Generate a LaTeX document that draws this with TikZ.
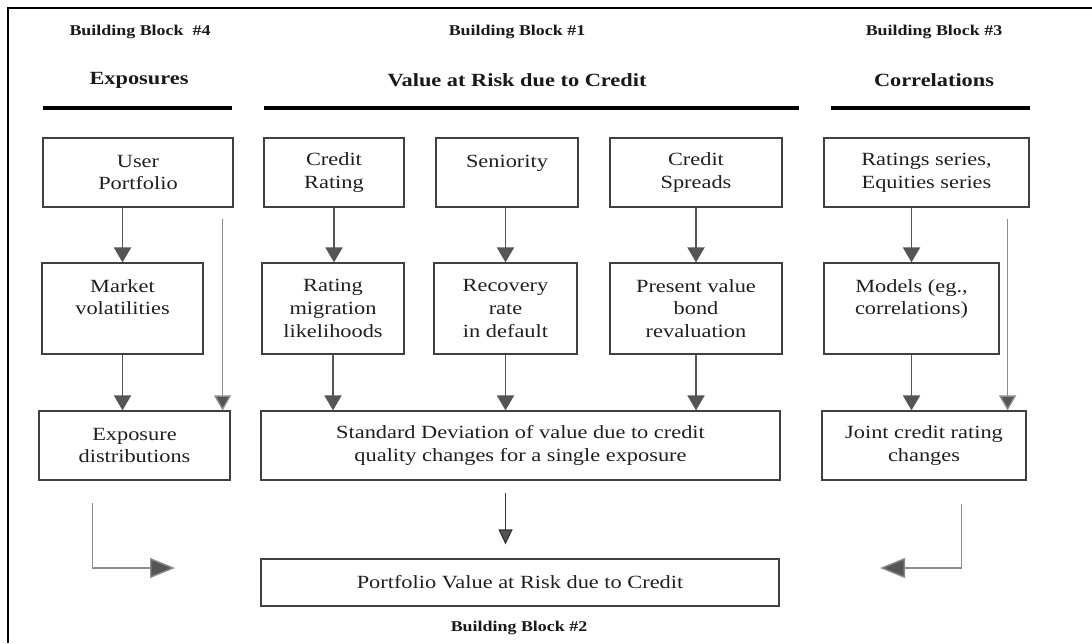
\documentclass[tikz,border=0pt]{standalone}
\usepackage{fontspec}
\setmainfont{Liberation Serif}[FakeStretch=1.2]
\usetikzlibrary{arrows.meta}

\definecolor{linegray}{RGB}{85,85,85}
\definecolor{lightgray}{RGB}{140,140,140}

\begin{document}
\begin{tikzpicture}[x=0.02cm, y=-0.02cm,
  box/.style={draw=black!75, line width=0.7pt, align=center, inner sep=1pt, text=black!88, font=\fontsize{10.6}{13}\selectfont},
  rowa/.style={box, minimum height=1.38cm},
  rowb/.style={box, minimum height=1.82cm},
  rowc/.style={box, minimum height=1.38cm},
  head/.style={font=\fontsize{10.6}{13}\selectfont\bfseries, text=black!90},
  block/.style={font=\fontsize{8.5}{10}\selectfont\bfseries, text=black!90},
  arr/.style={draw=linegray, line width=1.1pt, -{Triangle[width=0.34cm,length=0.3cm]}},
  bypass/.style={draw=lightgray, line width=0.8pt, -{Triangle[width=0.34cm,length=0.3cm,fill=linegray]}},
  down/.style={draw=black!80, line width=0.7pt, -{Triangle[width=0.28cm,length=0.3cm,fill=linegray]}},
  elbow/.style={draw=lightgray, line width=0.8pt, -{Triangle[width=0.4cm,length=0.5cm,fill=linegray]}}
]
\useasboundingbox (0,0) rectangle (1092,643);

% frame
\draw[line width=1.6pt] (8,643) -- (8,8) -- (1092,8);

\node[block] (bb4) at (140,32) {Building Block\ \ \#4};
\node[block] (bb1) at (517,32) {Building Block \#1};
\node[block] (bb3) at (934,32) {Building Block \#3};

\node[head] (hexp) at (139,80) {Exposures};
\node[head] (hvar) at (517,80) {Value at Risk due to Credit};
\node[head] (hcor) at (934,80) {Correlations};

\draw[line width=2.2pt] (43,108) -- (232,108);
\draw[line width=2.2pt] (264,108) -- (799,108);
\draw[line width=2.2pt] (831,108) -- (1030,108);

% inputs
\node[rowa, minimum width=3.8cm] (upf) at (138,172.5) {User\\Portfolio};
\node[rowa, minimum width=2.8cm] (crat) at (334,172.5) {Credit\\Rating};
\node[rowa, minimum width=2.84cm] (sen) at (507,172.5) {Seniority\\~};
\node[rowa, minimum width=3.44cm] (csp) at (696,172.5) {Credit\\Spreads};
\node[rowa, minimum width=4.1cm] (rser) at (926.5,172.5) {Ratings series,\\Equities series};

\node[rowb, minimum width=3.22cm] (mvol) at (122.5,308.5) {Market\\volatilities\\~};
\node[rowb, minimum width=2.84cm] (rmig) at (333,308.5) {Rating\\migration\\likelihoods};
\node[rowb, minimum width=2.86cm] (rrec) at (505.5,308.5) {Recovery\\rate\\in default};
\node[rowb, minimum width=3.44cm] (pval) at (696,308.5) {Present value\\bond\\revaluation};
\node[rowb, minimum width=3.5cm] (mod) at (911.5,308.5) {Models (eg.,\\correlations)\\~};

\node[rowc, minimum width=3.82cm] (expd) at (134.5,445.5) {Exposure\\distributions};
\node[rowc, minimum width=10.38cm] (sdev) at (520.5,445.5) {Standard Deviation of value due to credit\\quality changes for a single exposure};
\node[rowc, minimum width=4.08cm] (jcr) at (924,445.5) {Joint credit rating\\changes};

\node[box, minimum width=10.36cm, minimum height=0.94cm] (port) at (520,582.5) {Portfolio Value at Risk due to Credit};
\node[block] (bb2) at (519,628) {Building Block \#2};

% arrows
\draw[arr] (upf.south -| mvol) -- (mvol.north);
\draw[arr] (crat.south) -- (crat.south |- rmig.north);
\draw[arr] (sen.south -| rrec) -- (rrec.north);
\draw[arr] (csp.south) -- (pval.north);
\draw[arr] (rser.south -| mod) -- (mod.north);

\draw[arr] (mvol.south) -- (mvol.south |- expd.north);
\draw[arr] (rmig.south) -- (rmig.south |- sdev.north);
\draw[arr] (rrec.south) -- (rrec.south |- sdev.north);
\draw[arr] (pval.south) -- (pval.south |- sdev.north);
\draw[arr] (mod.south) -- (mod.south |- jcr.north);

\coordinate (lby) at ([xshift=-0.22cm]upf.south east);
\coordinate (rby) at ([xshift=-0.44cm]rser.south east);
\draw[bypass, shorten <=0.22cm] (lby) -- (lby |- expd.north);
\draw[bypass, shorten <=0.22cm] (rby) -- (rby |- jcr.north);

\draw[down, shorten <=0.24cm, shorten >=0.28cm] (sdev.south -| rrec) -- (rrec |- port.north);

\coordinate (lin) at (175,568);
\coordinate (rin) at (880,568);
\draw[elbow, shorten <=0.44cm] ([xshift=1.08cm]expd.south west) |- (lin);
\draw[elbow, shorten <=0.46cm] ([xshift=-1.3cm]jcr.south east) |- (rin);

\end{tikzpicture}
\end{document}
